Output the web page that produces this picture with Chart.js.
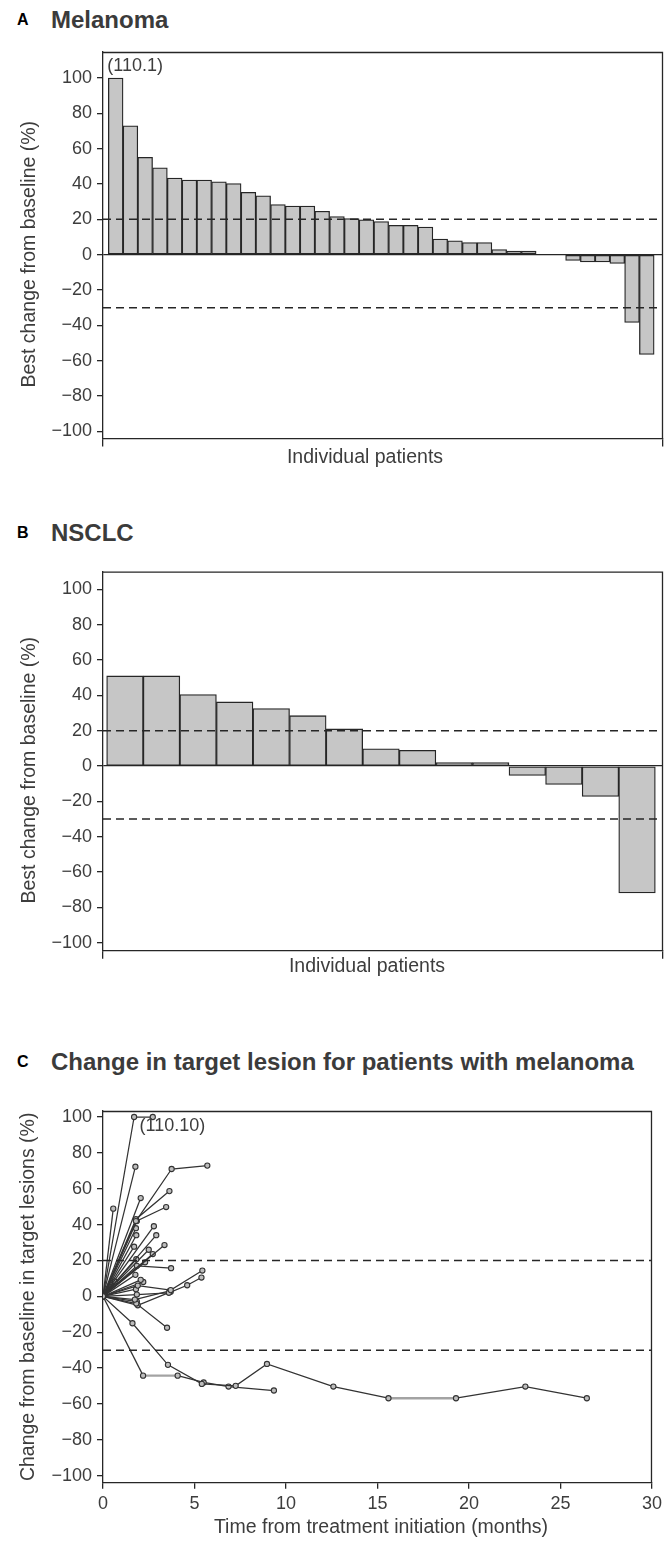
<!DOCTYPE html>
<html>
<head>
<meta charset="utf-8">
<title>Tumour response</title>
<script src="https://cdn.jsdelivr.net/npm/chart.js@4.4.1/dist/chart.umd.min.js"></script>
<style>
  html, body { margin: 0; padding: 0; background: #fff; }
  #page { position: relative; width: 667px; height: 1543px; overflow: hidden;
          font-family: "Liberation Sans", Arial, Helvetica, sans-serif; }
  .panel { position: absolute; left: 0; width: 667px; }
  .panel canvas { display: block; }
  .head { position: absolute; left: 0; height: 28px; line-height: 28px; white-space: nowrap; }
  .head .tag { position: absolute; left: 17px; font-size: 16px; font-weight: bold; color: #000; }
  .head .name { position: absolute; left: 51px; font-size: 24px; font-weight: bold; color: #3b3b3b; }
</style>
</head>
<body>
<div id="page">
  <div class="head" style="top:6px"><span class="tag">A</span><span class="name">Melanoma</span></div>
  <div class="panel" style="top:0px"><canvas id="chartA" width="667" height="475"></canvas></div>

  <div class="head" style="top:519px"><span class="tag">B</span><span class="name">NSCLC</span></div>
  <div class="panel" style="top:490px"><canvas id="chartB" width="667" height="500"></canvas></div>

  <div class="head" style="top:1048px"><span class="tag">C</span><span class="name">Change in target lesion for patients with melanoma</span></div>
  <div class="panel" style="top:1000px"><canvas id="chartC" width="667" height="543"></canvas></div>
</div>

<script>
// ---- data -------------------------------------------------------------
// A: best change from baseline per melanoma patient (%), sorted
const melanomaBest = [100, 72.9, 55.1, 49.2, 43.4, 42.2, 42.2, 41.3, 40.3, 35.3,
                      33.3, 28.4, 27.5, 27.5, 24.6, 21.6, 20.5, 19.7, 18.8, 16.6,
                      16.6, 15.6, 8.9, 7.9, 6.9, 6.9, 2.9, 2.0, 2.0, 0,
                      0, -3.2, -4.1, -4.1, -5.0, -38.3, -56.4];
const melanomaCapLabel = '(110.1)';

// B: best change from baseline per NSCLC patient (%), sorted
const nsclcBest = [51.0, 51.0, 40.5, 36.3, 32.5, 28.5, 21.0, 9.8, 8.9, 1.9,
                   1.9, -5.3, -10.4, -17.2, -71.8];

// reference thresholds (progression / partial response)
const progressionLine = 20;
const responseLine = -30;

// shared value axis
const changeTicks = [100, 80, 60, 40, 20, 0, -20, -40, -60, -80, -100];

// C: time axis (months)
const monthTicks = [0, 5, 10, 15, 20, 25, 30];

// C: per-patient course of target lesions, [month, % change]
const lesionTraces = [
  [[0, 0], [1.70, 100], [2.72, 100]],
  [[0, 0], [1.77, 72.3]],
  [[0, 0], [0.56, 48.9]],
  [[0, 0], [1.80, 42], [3.75, 71.0], [5.70, 72.9]],
  [[0, 0], [2.06, 54.8]],
  [[0, 0], [1.80, 43], [3.63, 58.7]],
  [[0, 0], [1.85, 42], [3.45, 49.8]],
  [[0, 0], [1.82, 34.1]],
  [[0, 0], [2.78, 39.1]],
  [[0, 0], [2.91, 34.1]],
  [[0, 0], [3.36, 28.6]],
  [[0, 0], [1.70, 27.7]],
  [[0, 0], [2.72, 23.6]],
  [[0, 0], [1.82, 20.7]],
  [[0, 0], [1.85, 17.0], [3.72, 15.7]],
  [[0, 0], [1.90, 6.0], [3.70, 3.5], [5.43, 14.4]],
  [[0, 0], [1.85, 1.0], [3.60, 2.0], [4.60, 6.2], [5.38, 10.5]],
  [[0, 0], [2.06, 9.2]],
  [[0, 0], [1.74, -1.8], [3.65, 3.0]],
  [[0, 0], [1.82, -4.0], [3.50, -17.5]],
  [[0, 0], [1.90, -5.0], [3.70, 2.5]],
  [[0, 0], [0.64, 8.3]],
  [[0, 0], [1.77, 12.0]],
  [[0, 0], [2.30, 19.0]],
  [[0, 0], [2.50, 26.0]],
  [[0, 0], [1.80, 38.0]],
  [[0, 0], [2.20, 8.0]],
  [[0, 0], [1.80, 4.0]],
  [[0, 0], [1.85, -3.0]],
  [[0, 0], [1.61, -15.0], [3.55, -38.2], [5.40, -48.8], [7.25, -49.9], [8.96, -37.7],
   [12.59, -50.3], [15.60, -56.8], [19.29, -56.8], [23.08, -50.3], [26.44, -56.8]],
  [[0, 0], [2.19, -44.2], [4.08, -44.2], [5.50, -48.0], [6.86, -50.3], [9.34, -52.5]]
];
const lesionCapLabel = '(110.10)';

// ---- styling ----------------------------------------------------------
const FONT = '"Liberation Sans", Arial, Helvetica, sans-serif';
const INK = '#262626';
const TEXT = '#3d3d3d';
const tickFont = { family: FONT, size: 18 };
const minusLabel = v => (v < 0 ? '\u2212' + Math.abs(v) : String(v));

// text placed relative to the chart area (axis captions, value notes)
function captions(items) {
  return {
    id: 'captions',
    afterDraw(chart) {
      const ctx = chart.ctx;
      items.forEach(it => {
        const p = it.at(chart);
        ctx.save();
        ctx.font = it.font;
        ctx.fillStyle = it.color || TEXT;
        ctx.textAlign = it.align || 'center';
        ctx.textBaseline = 'middle';
        ctx.translate(p[0], p[1]);
        if (it.rotate) ctx.rotate(it.rotate);
        ctx.fillText(it.text, 0, 0);
        ctx.restore();
      });
    }
  };
}

// top and right edges of the plotting frame
const frame = {
  id: 'frame',
  afterDatasetsDraw(chart) {
    const { ctx, chartArea: a } = chart;
    ctx.save();
    ctx.strokeStyle = INK;
    ctx.lineWidth = 1.3;
    ctx.beginPath();
    ctx.moveTo(a.left, a.top + 0.5);
    ctx.lineTo(a.right - 0.5, a.top + 0.5);
    ctx.lineTo(a.right - 0.5, a.bottom);
    ctx.stroke();
    ctx.restore();
  }
};

function thresholdSet(y, xMin, xMax) {
  return {
    type: 'line',
    data: [{ x: xMin, y: y }, { x: xMax, y: y }],
    borderColor: INK,
    borderWidth: 1.5,
    borderDash: [8, 5],
    pointRadius: 0,
    fill: false,
    order: 0
  };
}

function valueAxis(min, max, width, zeroLine) {
  return {
    type: 'linear',
    min: min,
    max: max,
    afterBuildTicks: s => { s.ticks = changeTicks.map(v => ({ value: v })); },
    afterFit: s => { s.width = width; },
    ticks: { font: tickFont, color: TEXT, padding: 5, callback: minusLabel },
    grid: {
      drawOnChartArea: true,
      color: c => (zeroLine && c.tick && c.tick.value === 0 ? INK : 'rgba(0,0,0,0)'),
      lineWidth: 1.3,
      tickColor: INK,
      tickLength: 6
    },
    border: { display: true, color: INK, width: 1.3 }
  };
}

function waterfall(id, values, o) {
  const pts = values.map((v, i) => ({ x: i + 1, y: v }));
  return new Chart(document.getElementById(id), {
    type: 'bar',
    data: {
      datasets: [
        {
          type: 'bar',
          data: pts,
          backgroundColor: '#c6c6c6',
          borderColor: INK,
          borderWidth: 1.3,
          borderSkipped: false,
          barPercentage: 1,
          categoryPercentage: 1,
          order: 2
        },
        thresholdSet(progressionLine, o.xMin, o.xMax),
        thresholdSet(responseLine, o.xMin, o.xMax)
      ]
    },
    options: {
      responsive: false,
      animation: false,
      devicePixelRatio: 1,
      layout: { padding: { top: o.padTop, right: 4, left: 0, bottom: 0 } },
      plugins: { legend: { display: false }, tooltip: { enabled: false } },
      scales: {
        x: {
          type: 'linear',
          offset: false,
          min: o.xMin,
          max: o.xMax,
          afterBuildTicks: s => { s.ticks = [{ value: o.xMin }, { value: o.xMax }]; },
          afterFit: s => { s.height = o.xAxisHeight; },
          ticks: { display: false },
          grid: { offset: false, drawOnChartArea: false, drawTicks: true, tickLength: 8, color: INK, lineWidth: 1.3 },
          border: { display: true, color: INK, width: 1.3 }
        },
        y: valueAxis(o.yMin, o.yMax, 103, true)
      }
    },
    plugins: [frame, captions(o.captions)]
  });
}

const yCaptionFont = '19.5px ' + FONT;

// ---- A: melanoma ------------------------------------------------------
waterfall('chartA', melanomaBest, {
  xMin: 0.14, xMax: 38.1, yMin: -104, yMax: 114.7,
  padTop: 52, xAxisHeight: 36.5,
  captions: [
    { text: 'Best change from baseline (%)', font: yCaptionFont, rotate: -Math.PI / 2,
      at: c => [30, (c.chartArea.top + c.chartArea.bottom) / 2 + 9] },
    { text: 'Individual patients', font: yCaptionFont,
      at: c => [365, 458] },
    { text: melanomaCapLabel, font: '18px ' + FONT, align: 'left',
      at: c => {
        const x = c.scales.x, y = c.scales.y;
        const slot = x.getPixelForValue(2) - x.getPixelForValue(1);
        return [x.getPixelForValue(1) - slot / 2 - 1, y.getPixelForValue(melanomaBest[0]) - 12];
      } }
  ]
});

// ---- B: NSCLC ---------------------------------------------------------
waterfall('chartB', nsclcBest, {
  xMin: 0.40, xMax: 15.71, yMin: -104.5, yMax: 110,
  padTop: 81.7, xAxisHeight: 39.3,
  captions: [
    { text: 'Best change from baseline (%)', font: yCaptionFont, rotate: -Math.PI / 2,
      at: c => [30, (c.chartArea.top + c.chartArea.bottom) / 2 + 9] },
    { text: 'Individual patients', font: yCaptionFont,
      at: c => [367, 476.7] }
  ]
});

// ---- C: change over time ---------------------------------------------
const flatNegative = s => s.p0.parsed.y === s.p1.parsed.y && s.p0.parsed.y < 0;
const traceSets = lesionTraces.map(tr => ({
  type: 'line',
  data: tr.map(p => ({ x: p[0], y: p[1] })),
  borderColor: '#333333',
  borderWidth: 1.25,
  pointRadius: 2.6,
  pointBorderWidth: 1.1,
  pointBorderColor: '#333333',
  pointBackgroundColor: '#bdbdbd',
  fill: false,
  tension: 0,
  order: 1,
  segment: {
    borderColor: s => (flatNegative(s) ? '#a3a3a3' : undefined),
    borderWidth: s => (flatNegative(s) ? 2.4 : undefined)
  }
}));

new Chart(document.getElementById('chartC'), {
  type: 'line',
  data: {
    datasets: [
      thresholdSet(progressionLine, 0, 30),
      thresholdSet(responseLine, 0, 30),
      ...traceSets
    ]
  },
  options: {
    responsive: false,
    animation: false,
    devicePixelRatio: 1,
    layout: { padding: { top: 111, right: 11, left: 0, bottom: 0 } },
    plugins: { legend: { display: false }, tooltip: { enabled: false } },
    scales: {
      x: {
        type: 'linear',
        offset: false,
        min: 0,
        max: 30,
        afterBuildTicks: s => { s.ticks = monthTicks.map(v => ({ value: v })); },
        afterFit: s => { s.height = 60.3; },
        ticks: { font: tickFont, color: TEXT, padding: 5, maxRotation: 0, autoSkip: false },
        grid: { drawOnChartArea: false, drawTicks: true, tickLength: 6, color: INK, lineWidth: 1.3 },
        border: { display: true, color: INK, width: 1.3 }
      },
      y: valueAxis(-103.9, 103.35, 103, false)
    }
  },
  plugins: [
    frame,
    captions([
      { text: 'Change from baseline in target lesions (%)', font: yCaptionFont, rotate: -Math.PI / 2,
        at: c => [29, (c.chartArea.top + c.chartArea.bottom) / 2] },
      { text: 'Time from treatment initiation (months)', font: yCaptionFont,
        at: c => [381, 528] },
      { text: lesionCapLabel, font: '18px ' + FONT, align: 'left',
        at: c => [c.scales.x.getPixelForValue(2.0), c.scales.y.getPixelForValue(94.7)] }
    ])
  ]
});
</script>
</body>
</html>
